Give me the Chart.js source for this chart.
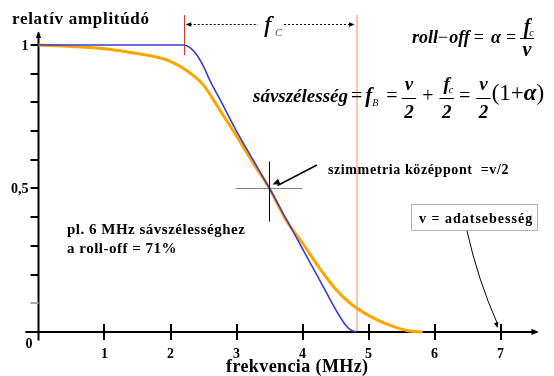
<!DOCTYPE html>
<html>
<head>
<meta charset="utf-8">
<script src="https://cdn.jsdelivr.net/npm/chart.js@4"></script>
<style>
  body { margin: 0; background: #fff; }
  #wrap { width: 554px; height: 376px; }
</style>
</head>
<body>
<div id="wrap"><canvas id="chart" width="554" height="376"></canvas></div>
<script>
// adatok (leolvasva az ábráról)
const blueX = [0, 1, 2.2, 2.3, 2.4, 2.5, 2.6, 2.75, 3.0, 3.25, 3.5, 3.75, 4.0, 4.25, 4.45, 4.55, 4.65, 4.72, 4.82];
const blueY = [1, 1, 1, 0.99, 0.965, 0.925, 0.875, 0.81, 0.7, 0.6, 0.5, 0.395, 0.29, 0.185, 0.1, 0.06, 0.025, 0.008, 0];
const orangeX = [0, 0.5, 1, 1.5, 1.75, 2, 2.25, 2.5, 2.75, 3, 3.25, 3.5, 3.75, 4, 4.25, 4.5, 4.75, 5, 5.25, 5.5, 5.6, 5.82];
const orangeY = [1, 0.995, 0.987, 0.97, 0.96, 0.943, 0.91, 0.86, 0.772, 0.683, 0.59, 0.5, 0.39, 0.31, 0.225, 0.15, 0.095, 0.058, 0.03, 0.01, 0.004, 0];
const xTicks = [1, 2, 3, 4, 5, 6, 7];
const yMinorTicks = [0.1, 0.2, 0.3, 0.4, 0.5, 0.6, 0.7, 0.8, 0.9, 1];
const yLabelValues = [1, 0.5];
const yLabelTexts = ['1', '0,5'];
const fcStart = 2.2;   // f_c kezdete
const fcEnd = 4.82;    // sávszélesség vége
const symX = 3.5, symY = 0.5; // szimmetria középpont

const SERIF = '"Liberation Serif", "DejaVu Serif", serif';

function toPoints(xs, ys) {
    return xs.map((x, i) => ({ x: x, y: ys[i] }));
}

function arrowHead(ctx, x1, y1, x2, y2, size) {
    const a = Math.atan2(y2 - y1, x2 - x1);
    ctx.beginPath();
    ctx.moveTo(x2, y2);
    ctx.lineTo(x2 - size * Math.cos(a - 0.4), y2 - size * Math.sin(a - 0.4));
    ctx.lineTo(x2 - size * Math.cos(a + 0.4), y2 - size * Math.sin(a + 0.4));
    ctx.closePath();
    ctx.fill();
}

function spaced(ctx, text, x, y, font, spacing) {
    ctx.font = font;
    ctx.letterSpacing = spacing + 'px';
    ctx.fillText(text, x, y);
    ctx.letterSpacing = '0px';
}

// képlet kirajzolása darabokból
function formula(ctx, x, y, items) {
    items.forEach(it => {
        if (it.frac) {
            ctx.font = it.font;
            const w1 = ctx.measureText(it.num).width;
            const w2 = ctx.measureText(it.den).width;
            const w = Math.max(w1, w2) + 5;
            ctx.fillText(it.num, x + (w - w1) / 2, y + it.numDy);
            if (it.sub) {
                ctx.font = it.subFont;
                ctx.fillText(it.sub, x + (w - w1) / 2 + w1 - 1, y + it.numDy + 3);
                ctx.font = it.font;
            }
            ctx.fillText(it.den, x + (w - w2) / 2, y + it.denDy);
            ctx.fillRect(x, y + it.barDy, w, 1);
            x += w + (it.gap || 0);
        } else {
            ctx.font = it.font;
            ctx.fillText(it.t, x, y + (it.dy || 0));
            x += ctx.measureText(it.t).width + (it.gap || 0);
        }
    });
}

const decorPlugin = {
    id: 'decor',
    beforeDatasetsDraw(chart) {
        const ctx = chart.ctx;
        const xs = chart.scales.x, ys = chart.scales.y;
        const x0 = xs.getPixelForValue(0), y0 = ys.getPixelForValue(0);
        ctx.save();
        // függőleges piros vonalak
        ctx.strokeStyle = 'rgb(245,135,115)';
        ctx.lineWidth = 1;
        ctx.beginPath();
        ctx.moveTo(Math.round(xs.getPixelForValue(fcEnd)), 15);
        ctx.lineTo(Math.round(xs.getPixelForValue(fcEnd)), y0);
        ctx.stroke();
        ctx.strokeStyle = 'rgb(230,50,40)';
        ctx.beginPath();
        ctx.moveTo(Math.round(xs.getPixelForValue(fcStart)) + 0.5, 15);
        ctx.lineTo(Math.round(xs.getPixelForValue(fcStart)) + 0.5, 55);
        ctx.stroke();

        // tengelyek
        ctx.strokeStyle = '#000';
        ctx.fillStyle = '#000';
        ctx.lineWidth = 2;
        ctx.beginPath();
        ctx.moveTo(chart.chartArea.left, y0);
        ctx.lineTo(chart.chartArea.right, y0);
        ctx.moveTo(x0, chart.chartArea.bottom);
        ctx.lineTo(x0, chart.chartArea.top + 2);
        ctx.stroke();
        arrowHead(ctx, chart.chartArea.right - 8, y0, chart.chartArea.right + 2, y0, 8);
        arrowHead(ctx, x0, chart.chartArea.top + 10, x0, chart.chartArea.top + 1, 7);

        // osztások
        ctx.lineWidth = 2;
        xTicks.forEach(v => {
            const px = Math.round(xs.getPixelForValue(v));
            ctx.beginPath();
            ctx.moveTo(px, y0 - 8);
            ctx.lineTo(px, y0 + 8);
            ctx.stroke();
        });
        yMinorTicks.forEach(v => {
            const py = Math.round(ys.getPixelForValue(v));
            ctx.strokeStyle = v === 0.1 ? '#aaa' : '#000';
            ctx.beginPath();
            ctx.moveTo(x0 - 8, py);
            ctx.lineTo(x0, py);
            ctx.stroke();
        });
        ctx.restore();
    },
    afterDraw(chart) {
        const ctx = chart.ctx;
        const xs = chart.scales.x, ys = chart.scales.y;
        const x0 = xs.getPixelForValue(0), y0 = ys.getPixelForValue(0);
        ctx.save();
        ctx.fillStyle = '#000';
        ctx.strokeStyle = '#000';
        ctx.textBaseline = 'alphabetic';

        // tengelyfeliratok
        ctx.font = 'bold 14px ' + SERIF;
        ctx.textAlign = 'center';
        xTicks.forEach(v => ctx.fillText(String(v), xs.getPixelForValue(v), 358));
        ctx.textAlign = 'right';
        yLabelValues.forEach((v, i) => ctx.fillText(yLabelTexts[i], x0 - 10, ys.getPixelForValue(v) + 5));
        ctx.fillText('0', x0 - 6, y0 + 16);
        ctx.textAlign = 'left';
        spaced(ctx, 'frekvencia (MHz)', 226, 372, 'bold 18px ' + SERIF, 0.4);
        spaced(ctx, 'relatív amplitúdó', 12, 24, 'bold 17px ' + SERIF, 0.7);

        // f_c nyíl
        const a = xs.getPixelForValue(fcStart), b = xs.getPixelForValue(fcEnd);
        ctx.lineWidth = 1;
        ctx.setLineDash([2, 2]);
        ctx.beginPath();
        ctx.moveTo(a + 6, 24.5); ctx.lineTo(258, 24.5);
        ctx.moveTo(284, 24.5); ctx.lineTo(b - 6, 24.5);
        ctx.stroke();
        ctx.setLineDash([]);
        arrowHead(ctx, a + 10, 24.5, a + 2, 24.5, 6);
        arrowHead(ctx, b - 10, 24.5, b - 2, 24.5, 6);
        ctx.font = 'italic 24px ' + SERIF;
        ctx.fillText('f', 264, 32);
        ctx.fillText('f', 264.6, 32);
        ctx.fillStyle = '#555';
        ctx.font = 'italic 11px ' + SERIF;
        ctx.fillText('C', 275, 36);
        ctx.fillStyle = '#000';

        // képletek
        const bi = 'bold italic 18px ' + SERIF;
        const rg = '18px ' + SERIF;
        formula(ctx, 412, 43, [
            { t: 'roll', font: bi },
            { t: '−', font: rg, gap: 1 },
            { t: 'off', font: bi, gap: 4 },
            { t: '=', font: rg, gap: 7 },
            { t: 'α', font: bi, gap: 5 },
            { t: '=', font: rg, gap: 4 },
            { frac: true, num: 'f', sub: 'c', den: 'ν', font: 'bold italic 20px ' + SERIF, subFont: 'italic 10px ' + SERIF, numDy: -10, denDy: 13, barDy: -5 }
        ]);
        const bi2 = 'bold italic 19px ' + SERIF;
        const rg2 = '20px ' + SERIF;
        formula(ctx, 253, 102, [
            { t: 'sávszélesség', font: bi2, gap: 3 },
            { t: '=', font: rg2, gap: 3 },
            { t: 'f', font: 'bold italic 21px ' + SERIF },
            { t: 'B', font: 'italic 10px ' + SERIF, dy: 4, gap: 8 },
            { t: '=', font: rg2, gap: 4 },
            { frac: true, num: 'ν', den: '2', font: bi2, numDy: -12, denDy: 16, barDy: -4, gap: 6 },
            { t: '+', font: rg2, gap: 6 },
            { frac: true, num: 'f', sub: 'c', den: '2', font: bi2, subFont: 'italic 10px ' + SERIF, numDy: -12, denDy: 16, barDy: -4, gap: 5 },
            { t: '=', font: rg2, gap: 6 },
            { frac: true, num: 'ν', den: '2', font: bi2, numDy: -12, denDy: 16, barDy: -4, gap: 1 },
            { t: '(1', font: '23px ' + SERIF, dy: -2 },
            { t: '+', font: '23px ' + SERIF, dy: -2 },
            { t: 'α', font: 'bold italic 23px ' + SERIF, dy: -2 },
            { t: ')', font: '23px ' + SERIF, dy: -2 }
        ]);

        // szimmetria középpont
        const sx = xs.getPixelForValue(symX), sy = ys.getPixelForValue(symY);
        ctx.lineWidth = 1;
        ctx.strokeStyle = '#888';
        ctx.beginPath();
        ctx.moveTo(sx - 34, Math.round(sy) + 0.5); ctx.lineTo(sx + 33, Math.round(sy) + 0.5);
        ctx.stroke();
        ctx.strokeStyle = '#000';
        ctx.beginPath();
        ctx.moveTo(Math.round(sx) + 0.5, sy - 27); ctx.lineTo(Math.round(sx) + 0.5, sy + 33);
        ctx.stroke();
        ctx.lineWidth = 1.5;
        ctx.beginPath();
        ctx.moveTo(317, 165); ctx.lineTo(sx + 8, sy - 3);
        ctx.stroke();
        arrowHead(ctx, 317, 165, sx + 3, sy - 4, 8);
        spaced(ctx, 'szimmetria középpont  =v/2', 328, 174, 'bold 14px ' + SERIF, 0.6);

        // megjegyzés
        spaced(ctx, 'pl. 6 MHz sávszélességhez', 67, 234, 'bold 15px ' + SERIF, 0.5);
        spaced(ctx, 'a roll-off = 71%', 67, 253, 'bold 15px ' + SERIF, 0.5);

        // v = adatsebesség doboz
        ctx.lineWidth = 1;
        ctx.strokeStyle = '#666';
        ctx.setLineDash([1, 1]);
        ctx.strokeRect(411.5, 204.5, 126, 26);
        ctx.setLineDash([]);
        spaced(ctx, 'v = adatsebesség', 419, 223, 'bold 14px ' + SERIF, 1);
        const tx = xs.getPixelForValue(7) - 3, ty = y0 - 4;
        ctx.strokeStyle = '#000';
        ctx.beginPath();
        ctx.moveTo(467, 231);
        ctx.quadraticCurveTo(478, 280, tx, ty - 4);
        ctx.stroke();
        arrowHead(ctx, tx - 3, ty - 12, tx, ty, 6);
        ctx.restore();
    }
};

const ctx = document.getElementById('chart').getContext('2d');
new Chart(ctx, {
    type: 'line',
    data: {
        datasets: [
            {
                label: 'ideális',
                data: toPoints(blueX, blueY),
                borderColor: 'rgb(60,60,215)',
                borderWidth: 1.6,
                pointRadius: 0,
                cubicInterpolationMode: 'monotone',
                order: 1
            },
            {
                label: 'valós',
                data: toPoints(orangeX, orangeY),
                borderColor: 'rgb(255,165,0)',
                borderWidth: 3,
                pointRadius: 0,
                cubicInterpolationMode: 'monotone',
                order: 2
            }
        ]
    },
    options: {
        responsive: false,
        animation: false,
        layout: { padding: { left: 25.3, right: 17.2, top: 30.6, bottom: 35.4 } },
        plugins: { legend: { display: false }, tooltip: { enabled: false } },
        scales: {
            x: { type: 'linear', min: -0.2, max: 7.55, display: false },
            y: { type: 'linear', min: -0.03, max: 1.05, display: false }
        }
    },
    plugins: [decorPlugin]
});
</script>
</body>
</html>
